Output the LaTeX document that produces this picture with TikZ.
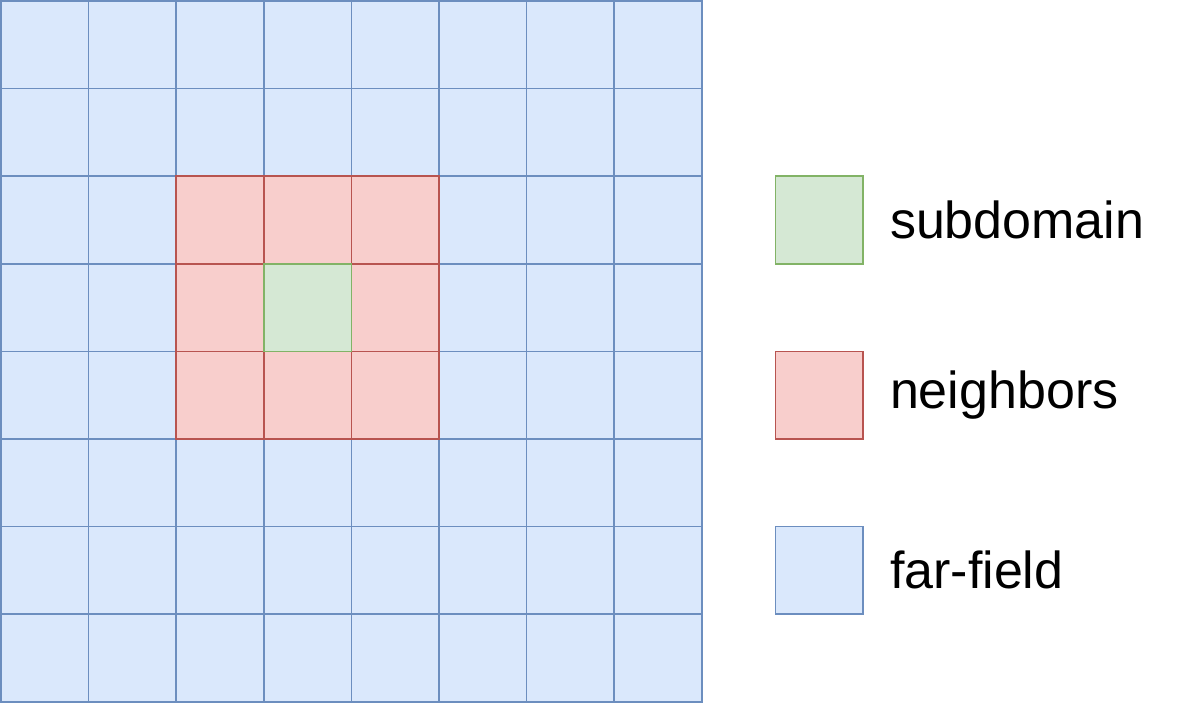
\documentclass[tikz,border=0pt]{standalone}
\usepackage{fontspec}
\setmainfont{Liberation Sans}
\usetikzlibrary{positioning}

\definecolor{farfill}{HTML}{DAE8FC}
\definecolor{farline}{HTML}{6C8EBF}
\definecolor{neighfill}{HTML}{F8CECC}
\definecolor{neighline}{HTML}{B85450}
\definecolor{subfill}{HTML}{D5E8D4}
\definecolor{subline}{HTML}{82B366}

\tikzset{
  cell/.style={draw,minimum size=87.6pt,inner sep=0pt,line width=1.6pt},
  farfield/.style={cell,fill=farfill,draw=farline},
  neighbor/.style={cell,fill=neighfill,draw=neighline},
  subdomain/.style={cell,fill=subfill,draw=subline},
  legendtext/.style={inner sep=0pt,anchor=west,font=\fontsize{52}{62}\selectfont}
}

\begin{document}
\begin{tikzpicture}[x=1pt,y=-1pt]
\useasboundingbox (0,0) rectangle (1196,703);
% far-field grid
\foreach \r in {0,...,7}
  \foreach \c in {0,...,7}
    \node[farfield] (C\r\c) at ({44.8+87.6*\c},{44.8+87.6*\r}) {};
% neighbours round the subdomain
\foreach \r/\c in {2/2,2/3,2/4,3/2,3/4,4/2,4/3,4/4}
  \node[neighbor] (N\r\c) at (C\r\c) {};
\node[subdomain] (S) at (C33) {};

% legend
\node[subdomain,right=72pt of C27] (LS) {};
\node[neighbor,right=72pt of C47] (LN) {};
\node[farfield,right=72pt of C67] (LF) {};
\node[legendtext,right=26pt of LS] (TS) {subdomain};
\node[legendtext,right=26pt of LN] (TN) {neighbors};
\node[legendtext,right=26pt of LF] (TF) {far-field};
\end{tikzpicture}
\end{document}
